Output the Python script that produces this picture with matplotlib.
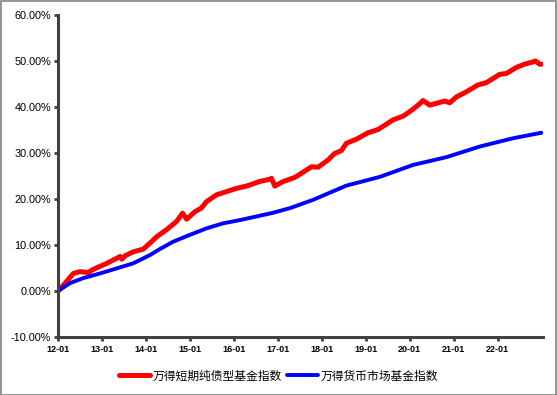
import matplotlib
matplotlib.use("Agg")
import matplotlib.pyplot as plt
import matplotlib.dates as mdates
import pandas as pd
from matplotlib.ticker import FuncFormatter, MultipleLocator

plt.rcParams['font.family'] = ['Liberation Sans', 'Noto Sans CJK SC', 'DejaVu Sans']

# 万得短期纯债型基金指数 (cumulative return, %)
red_dates = ["2012-01-04", "2012-03-01", "2012-05-08", "2012-07-01", "2012-09-08", "2012-10-20",
             "2013-02-10", "2013-06-01", "2013-06-15", "2013-07-15", "2013-09-17", "2013-12-10",
             "2014-02-03", "2014-04-01", "2014-06-20", "2014-09-12", "2014-11-01", "2014-12-05",
             "2015-02-10", "2015-04-05", "2015-05-18", "2015-08-10", "2015-11-01", "2016-01-22",
             "2016-04-15", "2016-08-03", "2016-10-26", "2016-11-08", "2016-12-06", "2017-02-14",
             "2017-05-22", "2017-07-16", "2017-10-06", "2017-12-01", "2018-02-22", "2018-04-17",
             "2018-06-12", "2018-07-23", "2018-10-15", "2019-01-20", "2019-04-13", "2019-08-15",
             "2019-11-06", "2020-01-01", "2020-03-10", "2020-04-20", "2020-06-15", "2020-08-10",
             "2020-10-18", "2020-11-28", "2021-01-23", "2021-04-15", "2021-07-20", "2021-09-28",
             "2022-01-17", "2022-03-14", "2022-06-04", "2022-08-10", "2022-10-20", "2022-11-10",
             "2022-12-14", "2022-12-30"]
red_vals = [0.0, 1.7, 3.8, 4.2, 4.0, 4.7,
            6.0, 7.5, 6.9, 7.7, 8.5, 9.1,
            10.4, 11.8, 13.3, 15.1, 16.9, 15.6,
            17.2, 18.0, 19.4, 20.9, 21.6, 22.3,
            22.8, 23.8, 24.3, 24.5, 22.8, 23.8,
            24.7, 25.6, 27.0, 26.9, 28.5, 29.9,
            30.5, 32.1, 33.0, 34.4, 35.1, 37.2,
            38.0, 39.0, 40.4, 41.4, 40.4, 40.8,
            41.3, 40.9, 42.2, 43.3, 44.8, 45.3,
            47.1, 47.3, 48.6, 49.3, 49.8, 50.0,
            49.3, 49.3]

# 万得货币市场基金指数 (cumulative return, %)
blue_dates = ["2012-01-04", "2012-04-10", "2012-07-30", "2012-12-15", "2013-05-02", "2013-09-17",
              "2014-02-03", "2014-04-26", "2014-08-14", "2015-01-01", "2015-05-18", "2015-10-03",
              "2016-02-19", "2016-07-07", "2016-11-22", "2017-04-10", "2017-10-19", "2018-07-23",
              "2019-04-27", "2020-01-28", "2020-11-01", "2021-08-04", "2022-05-07", "2022-12-30"]
blue_vals = [0.0, 1.7, 2.8, 3.8, 4.9, 6.0,
             7.8, 9.1, 10.7, 12.2, 13.6, 14.7,
             15.4, 16.2, 17.0, 18.0, 19.8, 22.9,
             24.8, 27.4, 29.1, 31.4, 33.2, 34.4]

labels = ["万得短期纯债型基金指数", "万得货币市场基金指数"]
years = list(range(2012, 2023))

fig = plt.figure(figsize=(5.57, 3.95), dpi=100)
ax = fig.add_axes([0.104, 0.147, 0.871, 0.815])

ax.plot(pd.to_datetime(red_dates), red_vals, color="#FF0000", lw=3.6, label=labels[0],
        solid_joinstyle="round", solid_capstyle="round")
ax.plot(pd.to_datetime(blue_dates), blue_vals, color="#0000FF", lw=2.8, label=labels[1],
        solid_joinstyle="round", solid_capstyle="round")

ax.set_ylim(-10, 60)
ax.yaxis.set_major_locator(MultipleLocator(10))
ax.yaxis.set_major_formatter(FuncFormatter(lambda v, p: f"{v:.2f}%"))
ax.set_xlim(pd.Timestamp("2012-01-01"), pd.Timestamp("2023-01-12"))
ax.set_xticks([pd.Timestamp(f"{y}-01-01") for y in years])
ax.xaxis.set_major_formatter(mdates.DateFormatter("%y-%m"))

for s in ["top", "right"]:
    ax.spines[s].set_visible(False)
for s in ["left", "bottom"]:
    ax.spines[s].set_color("#404040")
    ax.spines[s].set_linewidth(2.2)

ax.tick_params(axis="y", length=3, width=2, color="#404040", labelsize=7.8, pad=2)
ax.tick_params(axis="x", length=3, width=2, color="#404040", labelsize=6.5, pad=3)
for t in ax.get_xticklabels():
    t.set_fontweight("bold")

fig.legend(loc="center", bbox_to_anchor=(0.5, 0.048), ncol=2, frameon=False,
           prop={"family": ["Noto Sans CJK SC", "DejaVu Sans"], "size": 8.5},
           handlelength=2.6, handletextpad=0.2, columnspacing=0.5)

fig.patches.append(plt.Rectangle((0.001, 0.001), 0.997, 0.997, transform=fig.transFigure,
                                 fill=False, edgecolor="#808080", lw=1.2))

fig.savefig("out.png", dpi=100)
